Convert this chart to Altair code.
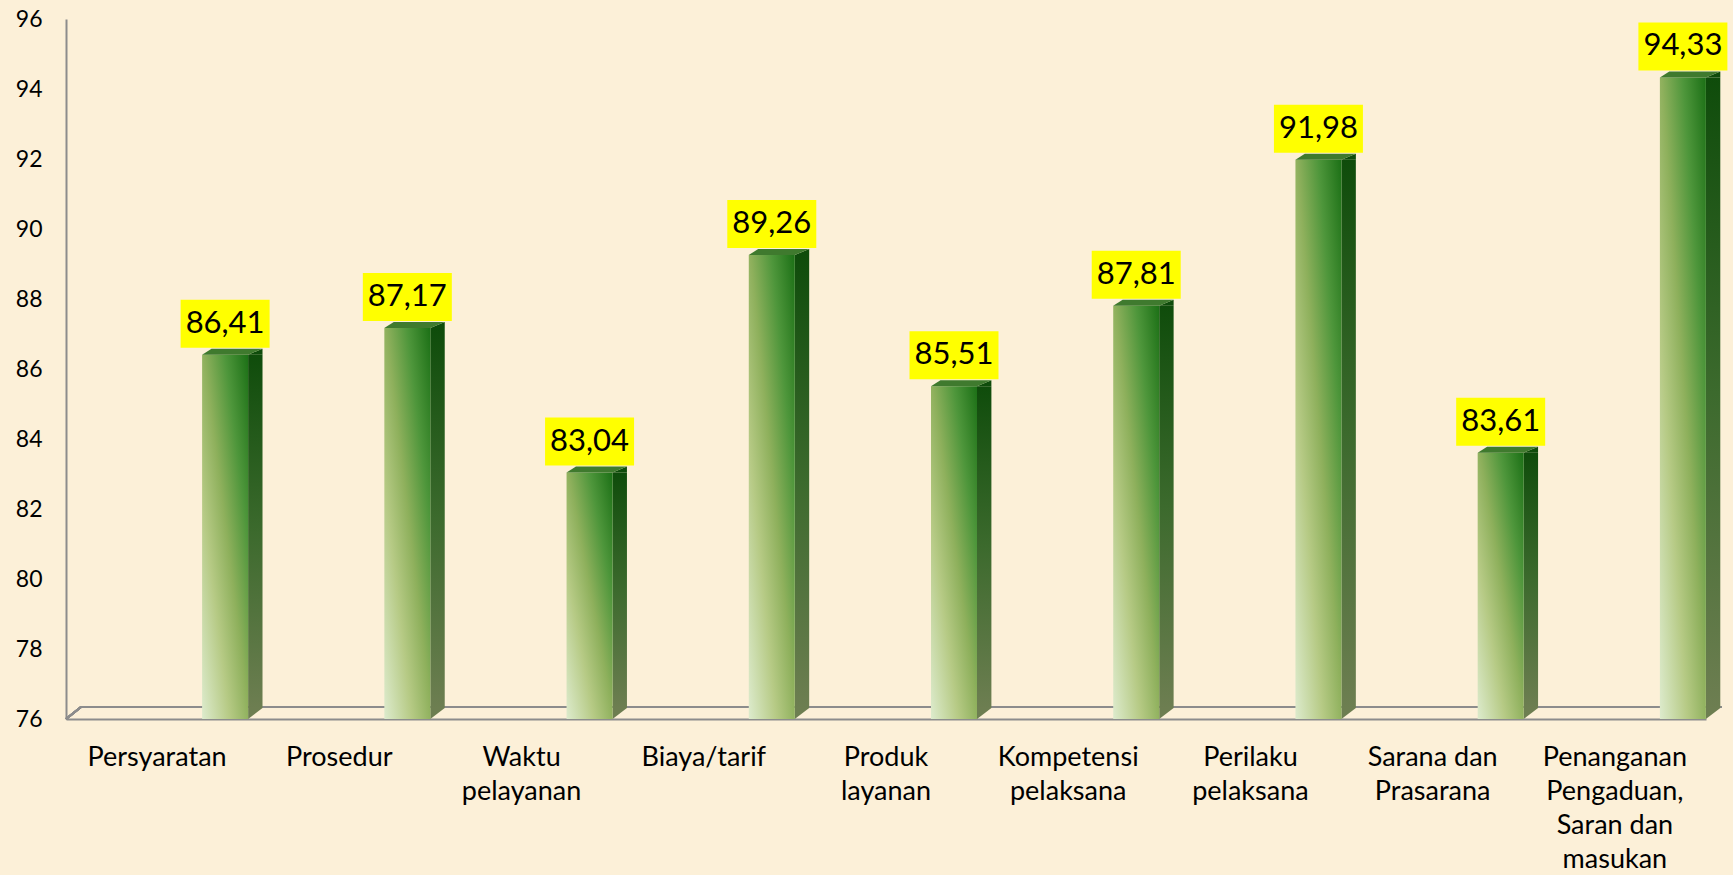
import json
import altair as alt
import pandas as pd

categories = ["Persyaratan", "Prosedur", "Waktu pelayanan", "Biaya/tarif", "Produk layanan",
              "Kompetensi pelaksana", "Perilaku pelaksana", "Sarana dan Prasarana",
              "Penanganan Pengaduan, Saran dan masukan"]
label_lines = [["Persyaratan"], ["Prosedur"], ["Waktu", "pelayanan"], ["Biaya/tarif"],
               ["Produk", "layanan"], ["Kompetensi", "pelaksana"], ["Perilaku", "pelaksana"],
               ["Sarana dan", "Prasarana"], ["Penanganan", "Pengaduan,", "Saran dan", "masukan"]]
values = [86.41, 87.17, 83.04, 89.26, 85.51, 87.81, 91.98, 83.61, 94.33]
y_ticks = list(range(76, 97, 2))
baseline_value = 76

df = pd.DataFrame({"kategori": categories, "nilai": values})

W, H = 1640, 700
OFF = 68  # horizontal shift of the 3D bar inside its category band
FONT = "Lato"

label_map = json.dumps(dict(zip(categories, label_lines)))

x_enc = alt.X("kategori:N", sort=categories,
              scale=alt.Scale(paddingInner=0, paddingOuter=0),
              axis=alt.Axis(title=None, labelAngle=0, ticks=False, domain=True,
                            domainColor="#8C8C8C", domainWidth=2,
                            labelFont=FONT, labelFontSize=27, labelColor="#000000",
                            labelLineHeight=34, labelPadding=25, labelLimit=0,
                            labelExpr=f"({label_map})[datum.label]"))
y_enc = alt.Y("nilai:Q",
              scale=alt.Scale(domain=[76, 96], zero=False, nice=False),
              axis=alt.Axis(title=None, values=y_ticks, ticks=False, grid=False,
                            domainColor="#8C8C8C", domainWidth=2,
                            labelFont=FONT, labelFontSize=23, labelColor="#000000",
                            labelPadding=24))

base = alt.Chart(df).encode(x=x_enc, y=y_enc)

front_grad = alt.Gradient(gradient="linear", x1=0, y1=1, x2=1, y2=0, stops=[
    alt.GradientStop(color="#DDEBCD", offset=0),
    alt.GradientStop(color="#B6CA85", offset=0.3),
    alt.GradientStop(color="#8EB05C", offset=0.52),
    alt.GradientStop(color="#4E963B", offset=0.75),
    alt.GradientStop(color="#1C7016", offset=1),
])
side_grad = alt.Gradient(gradient="linear", x1=0, y1=0, x2=0, y2=1, stops=[
    alt.GradientStop(color="#0F4C0B", offset=0),
    alt.GradientStop(color="#3C6A2D", offset=0.5),
    alt.GradientStop(color="#6D7E51", offset=1),
])

side = base.mark_bar(width=14.4, xOffset=OFF + 23 + 7.2, y2Offset=-11,
                     color=side_grad).encode(y2=alt.datum(baseline_value))
side_top = base.mark_point(shape="M23,0 L37.4,-6 L37.4,0 Z", size=4, filled=True,
                           opacity=1, strokeWidth=0, color="#0F4C0B", xOffset=OFF)
side_bottom = base.mark_point(shape="M23,-11 L23,0 L37.4,-11 Z", size=4, filled=True,
                              opacity=1, strokeWidth=0, color="#6D7E51",
                              xOffset=OFF).encode(y=alt.datum(baseline_value))
front = base.mark_bar(width=46, xOffset=OFF, color=front_grad).encode(
    y2=alt.datum(baseline_value))
cap = base.mark_point(shape="M-23,0 L23,0 L37.4,-6 L-13.6,-6 Z", size=4, filled=True,
                      opacity=1, strokeWidth=0, color="#3F7A2E", xOffset=OFF)
box = base.mark_point(shape="M-44.5,-55 L44.5,-55 L44.5,-7 L-44.5,-7 Z", size=4,
                      filled=True, opacity=1, strokeWidth=0, color="#FFFF00", xOffset=OFF)
text = base.transform_calculate(
    teks="replace(format(datum.nilai, '.2f'), '.', ',')"
).mark_text(font=FONT, fontSize=31, color="#000000", align="center", baseline="middle",
            xOffset=OFF, yOffset=-31).encode(text="teks:N")

floor_back = alt.Chart(df).mark_rule(color="#8C8C8C", strokeWidth=2).encode(
    x=alt.value(15), x2=alt.value(W + 16), y=alt.value(H - 12))
floor_left = alt.Chart(df).mark_rule(color="#8C8C8C", strokeWidth=2).encode(
    x=alt.value(0), x2=alt.value(15), y=alt.value(H), y2=alt.value(H - 12))

chart = alt.layer(floor_back, floor_left, side, side_top, side_bottom, front, cap, box, text).properties(
    width=W, height=H,
    autosize=alt.AutoSizeParams(type="none"),
    padding={"left": 66, "top": 19, "right": 27, "bottom": 156},
    background="#FCF0D8",
).configure_view(stroke=None)

chart.save("out.html", embed_options={"renderer": "svg", "actions": False})
